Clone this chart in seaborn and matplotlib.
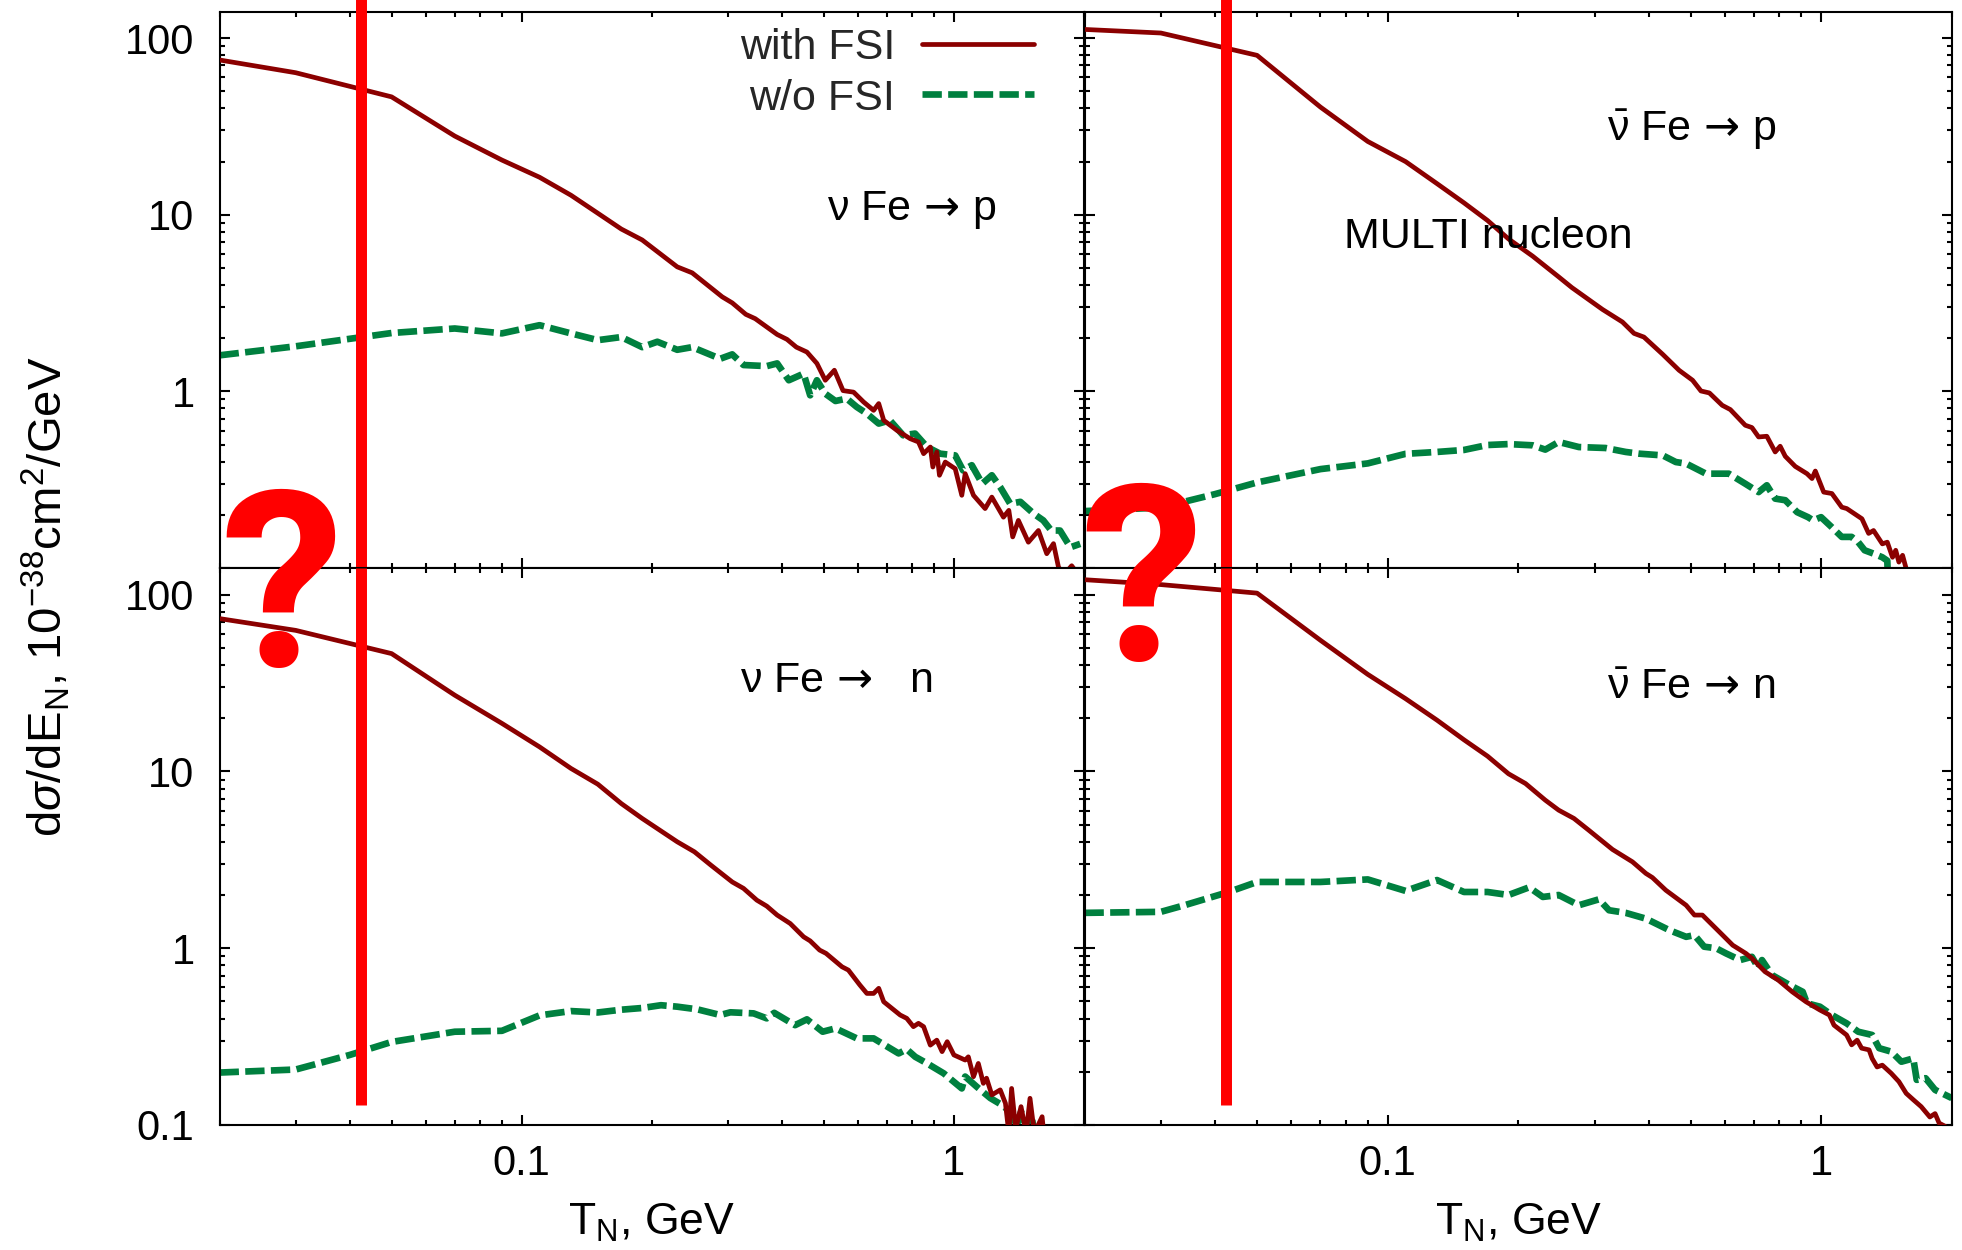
import numpy as np
import pandas as pd
import matplotlib
matplotlib.use("Agg")
import matplotlib.pyplot as plt
import seaborn as sns
from matplotlib.ticker import FixedLocator, FixedFormatter, LogLocator, NullFormatter

# ---------------------------------------------------------------- data
# nu Fe -> p
nu_p_fsi_T = [0.02, 0.03, 0.05, 0.07, 0.09, 0.11, 0.13, 0.15, 0.17, 0.19, 0.229, 0.248, 0.291, 0.307,
              0.330, 0.347, 0.39, 0.411, 0.432, 0.457, 0.482, 0.504, 0.529, 0.554, 0.586, 0.618, 0.652,
              0.670, 0.688, 0.738, 0.792, 0.828, 0.851, 0.882, 0.894, 0.913, 0.926, 0.955, 1.007, 1.043,
              1.062, 1.110, 1.181, 1.224, 1.302, 1.34, 1.368, 1.41, 1.487, 1.569, 1.64, 1.70, 1.746,
              1.80, 1.873, 1.95]
nu_p_fsi = [75.2, 63.7, 46.5, 27.9, 20.4, 16.3, 12.9, 10.2, 8.3, 7.2, 5.07, 4.69, 3.43, 3.17, 2.73,
            2.58, 2.10, 1.97, 1.78, 1.67, 1.44, 1.156, 1.317, 1.01, 0.99, 0.871, 0.781, 0.853, 0.686,
            0.602, 0.540, 0.517, 0.444, 0.484, 0.373, 0.454, 0.335, 0.398, 0.365, 0.258, 0.342, 0.258,
            0.217, 0.252, 0.194, 0.212, 0.150, 0.186, 0.140, 0.163, 0.1205, 0.1374, 0.101, 0.092,
            0.103, 0.09]
nu_p_nofsi_T = [0.02, 0.03, 0.05, 0.07, 0.09, 0.11, 0.13, 0.15, 0.17, 0.19, 0.206, 0.229, 0.248, 0.288,
                0.307, 0.326, 0.369, 0.39, 0.415, 0.449, 0.465, 0.482, 0.504, 0.532, 0.565, 0.596,
                0.629, 0.670, 0.711, 0.763, 0.813, 0.867, 0.929, 1.007, 1.05, 1.10, 1.163, 1.224, 1.28,
                1.35, 1.425, 1.53, 1.61, 1.68, 1.76, 1.86, 1.96]
nu_p_nofsi = [1.60, 1.80, 2.14, 2.27, 2.13, 2.37, 2.13, 1.95, 2.03, 1.78, 1.91, 1.72, 1.78, 1.53, 1.62,
              1.41, 1.39, 1.44, 1.156, 1.26, 0.95, 1.156, 0.97, 0.882, 0.91, 0.816, 0.748, 0.657, 0.686,
              0.564, 0.577, 0.484, 0.444, 0.434, 0.357, 0.382, 0.300, 0.335, 0.287, 0.231, 0.237, 0.203,
              0.186, 0.163, 0.163, 0.131, 0.137]

# anti-nu Fe -> p
nubar_p_fsi_T = [0.02, 0.03, 0.05, 0.07, 0.09, 0.11, 0.13, 0.15, 0.17, 0.19, 0.216, 0.248, 0.266, 0.313,
                 0.348, 0.370, 0.390, 0.431, 0.47, 0.505, 0.528, 0.552, 0.591, 0.617, 0.668, 0.692,
                 0.717, 0.749, 0.783, 0.804, 0.826, 0.871, 0.927, 0.952, 0.969, 1.013, 1.058, 1.115,
                 1.145, 1.241, 1.286, 1.32, 1.383, 1.42, 1.46, 1.485, 1.51, 1.54, 1.57, 1.59]
nubar_p_fsi = [112, 106.9, 79.9, 40.7, 26.0, 20.0, 15.0, 11.68, 9.28, 7.3, 5.83, 4.45, 3.87, 2.91, 2.47,
               2.13, 2.03, 1.62, 1.317, 1.156, 1.005, 0.98, 0.834, 0.789, 0.643, 0.624, 0.552, 0.557,
               0.454, 0.489, 0.429, 0.376, 0.342, 0.321, 0.354, 0.269, 0.264, 0.221, 0.217, 0.190,
               0.157, 0.163, 0.137, 0.140, 0.115, 0.126, 0.108, 0.118, 0.099, 0.06]
nubar_p_nofsi_T = [0.02, 0.03, 0.04, 0.05, 0.07, 0.09, 0.11, 0.13, 0.15, 0.17, 0.19, 0.216, 0.231, 0.248,
                   0.276, 0.318, 0.354, 0.380, 0.431, 0.462, 0.488, 0.542, 0.612, 0.668, 0.717, 0.749,
                   0.783, 0.826, 0.88, 0.932, 0.958, 0.999, 1.058, 1.115, 1.175, 1.217, 1.259, 1.32,
                   1.383, 1.42, 1.43]
nubar_p_nofsi = [0.21, 0.22, 0.262, 0.305, 0.363, 0.391, 0.443, 0.454, 0.466, 0.497, 0.503, 0.495,
                 0.468, 0.517, 0.484, 0.478, 0.454, 0.444, 0.434, 0.398, 0.390, 0.342, 0.342, 0.300,
                 0.269, 0.294, 0.247, 0.242, 0.207, 0.194, 0.186, 0.194, 0.170, 0.150, 0.150, 0.140,
                 0.126, 0.1206, 0.115, 0.110, 0.07]

# nu Fe -> n
nu_n_fsi_T = [0.02, 0.03, 0.05, 0.07, 0.09, 0.11, 0.13, 0.15, 0.17, 0.19, 0.229, 0.251, 0.274, 0.307,
              0.326, 0.35, 0.369, 0.39, 0.418, 0.449, 0.465, 0.489, 0.506, 0.551, 0.57, 0.606, 0.629,
              0.652, 0.670, 0.688, 0.751, 0.778, 0.806, 0.828, 0.851, 0.882, 0.913, 0.939, 0.965, 1.0,
              1.062, 1.08, 1.11, 1.139, 1.17, 1.19, 1.224, 1.28, 1.316, 1.34, 1.36, 1.39, 1.43, 1.47,
              1.50, 1.535, 1.60, 1.63]
nu_n_fsi = [73.2, 62.8, 46.4, 27.0, 18.7, 13.76, 10.4, 8.47, 6.58, 5.42, 4.00, 3.51, 2.95, 2.37, 2.18,
            1.87, 1.73, 1.54, 1.38, 1.16, 1.10, 0.976, 0.935, 0.785, 0.752, 0.619, 0.555, 0.555, 0.593,
            0.498, 0.419, 0.401, 0.360, 0.376, 0.360, 0.283, 0.302, 0.26, 0.296, 0.249, 0.233, 0.243,
            0.1875, 0.223, 0.172, 0.184, 0.148, 0.158, 0.1327, 0.09, 0.161, 0.095, 0.127, 0.09,
            0.1416, 0.09, 0.1114, 0.07]
nu_n_nofsi_T = [0.02, 0.03, 0.04, 0.05, 0.07, 0.09, 0.11, 0.13, 0.15, 0.17, 0.19, 0.21, 0.229, 0.255,
                0.288, 0.304, 0.344, 0.369, 0.384, 0.429, 0.457, 0.497, 0.532, 0.596, 0.652, 0.711,
                0.745, 0.778, 0.814, 0.867, 0.947, 1.043, 1.062, 1.128, 1.214, 1.29, 1.35, 1.39, 1.43,
                1.47, 1.51, 1.55]
nu_n_nofsi = [0.198, 0.206, 0.249, 0.295, 0.337, 0.341, 0.417, 0.441, 0.433, 0.449, 0.459, 0.476, 0.467,
              0.451, 0.419, 0.434, 0.428, 0.401, 0.431, 0.367, 0.396, 0.337, 0.352, 0.309, 0.309, 0.272,
              0.254, 0.268, 0.243, 0.223, 0.196, 0.161, 0.188, 0.165, 0.142, 0.13, 0.119, 0.095, 0.119,
              0.098, 0.114, 0.08]

# anti-nu Fe -> n
nubar_n_fsi_T = [0.02, 0.03, 0.05, 0.07, 0.09, 0.11, 0.13, 0.15, 0.17, 0.19, 0.208, 0.231, 0.248, 0.269,
                 0.291, 0.33, 0.367, 0.394, 0.408, 0.438, 0.488, 0.51, 0.532, 0.582, 0.625, 0.67, 0.692,
                 0.742, 0.796, 0.857, 0.922, 0.993, 1.044, 1.07, 1.144, 1.175, 1.21, 1.239, 1.289, 1.31,
                 1.345, 1.383, 1.45, 1.51, 1.57, 1.63, 1.70, 1.78, 1.83, 1.87, 1.92, 1.97]
nubar_n_fsi = [121.5, 114, 102, 55.2, 35.4, 25.8, 19.5, 15.1, 12.2, 9.7, 8.54, 6.88, 6.04, 5.42, 4.65,
               3.62, 3.08, 2.65, 2.51, 2.13, 1.75, 1.54, 1.54, 1.238, 1.04, 0.935, 0.876, 0.736, 0.66,
               0.567, 0.498, 0.447, 0.419, 0.367, 0.323, 0.284, 0.302, 0.272, 0.266, 0.238, 0.213,
               0.218, 0.196, 0.176, 0.151, 0.139, 0.127, 0.111, 0.116, 0.1025, 0.099, 0.095]
nubar_n_nofsi_T = [0.02, 0.03, 0.034, 0.043, 0.05, 0.07, 0.09, 0.11, 0.13, 0.15, 0.17, 0.19, 0.212,
                   0.228, 0.248, 0.276, 0.307, 0.324, 0.354, 0.394, 0.446, 0.488, 0.51, 0.537, 0.572,
                   0.603, 0.65, 0.692, 0.717, 0.73, 0.77, 0.845, 0.906, 0.927, 0.993, 1.058, 1.144,
                   1.217, 1.31, 1.36, 1.45, 1.53, 1.63, 1.66, 1.74, 1.83, 1.90, 2.0]
nubar_n_nofsi = [1.585, 1.606, 1.75, 2.08, 2.37, 2.37, 2.45, 2.11, 2.43, 2.08, 2.08, 2.0, 2.21, 1.95,
                 2.0, 1.75, 1.89, 1.64, 1.585, 1.47, 1.266, 1.16, 1.186, 1.02, 1.0, 0.935, 0.857, 0.894,
                 0.769, 0.857, 0.705, 0.619, 0.567, 0.488, 0.467, 0.419, 0.376, 0.337, 0.323, 0.272,
                 0.26, 0.228, 0.238, 0.18, 0.184, 0.158, 0.151, 0.142]

series_labels = ["with FSI", "w/o FSI"]
y_tick_values = [0.1, 1, 10, 100]
y_tick_labels = ["0.1", "1", "10", "100"]
x_tick_values = [0.1, 1]
x_tick_labels = ["0.1", "1"]

# energy marked by the vertical red bar, and where that bar stops at the bottom
marked_T = 0.0425
marked_bar_low = 0.129

# ---------------------------------------------------------------- style
sns.set_theme(style="ticks")
plt.rcParams["font.family"] = ["Liberation Sans", "DejaVu Sans"]
plt.rcParams["mathtext.fontset"] = "custom"
plt.rcParams["mathtext.rm"] = "Liberation Sans"
plt.rcParams["mathtext.it"] = "Liberation Sans:italic"
plt.rcParams["mathtext.bf"] = "Liberation Sans:bold"
plt.rcParams["mathtext.sf"] = "DejaVu Sans"
plt.rcParams["axes.linewidth"] = 1.5

RED = "#8b0000"
GREEN = "#00803f"
MARK = "#ff0000"
FS = 31
TICK_FS = 30
XLIM = (0.02, 2.0)
YLIM = (0.1, 141.5)

W, H = 1962, 1250
fig = plt.figure(figsize=(W / 100, H / 100), dpi=100)


def rect(x0, y0, x1, y1):
    return [x0 / W, 1 - y1 / H, (x1 - x0) / W, (y1 - y0) / H]


ARROW = r"$\,\mathsf{\rightarrow}\,$"
panels = [
    dict(rect=rect(219.6, 11.5, 1084, 568), fsi=(nu_p_fsi_T, nu_p_fsi),
         nofsi=(nu_p_nofsi_T, nu_p_nofsi), text=r"$\mathrm{\nu}$ Fe" + ARROW + "p",
         tpos=(0.801, 0.625), left=True, bottom=False, legend=True),
    dict(rect=rect(1084.5, 11.5, 1951.8, 568), fsi=(nubar_p_fsi_T, nubar_p_fsi),
         nofsi=(nubar_p_nofsi_T, nubar_p_nofsi), text=r"$\mathrm{\bar{\nu}}$ Fe" + ARROW + "p",
         tpos=(0.700, 0.767), left=False, bottom=False, legend=False),
    dict(rect=rect(219.6, 568, 1084, 1125), fsi=(nu_n_fsi_T, nu_n_fsi),
         nofsi=(nu_n_nofsi_T, nu_n_nofsi), text=r"$\mathrm{\nu}$ Fe" + ARROW + "  n",
         tpos=(0.714, 0.777), left=True, bottom=True, legend=False),
    dict(rect=rect(1084.5, 568, 1951.8, 1125), fsi=(nubar_n_fsi_T, nubar_n_fsi),
         nofsi=(nubar_n_nofsi_T, nubar_n_nofsi), text=r"$\mathrm{\bar{\nu}}$ Fe" + ARROW + "n",
         tpos=(0.700, 0.7655), left=False, bottom=True, legend=False),
]

axes = []
for p in panels:
    ax = fig.add_axes(p["rect"])
    axes.append(ax)
    ax.set_xscale("log")
    ax.set_yscale("log")

    df_fsi = pd.DataFrame({"T": p["fsi"][0], "dsdE": p["fsi"][1]})
    df_nofsi = pd.DataFrame({"T": p["nofsi"][0], "dsdE": p["nofsi"][1]})

    sns.lineplot(data=df_fsi, x="T", y="dsdE", ax=ax, color=RED, linewidth=3.4,
                 estimator=None, sort=False, label=series_labels[0], legend=False, zorder=3)
    sns.lineplot(data=df_nofsi, x="T", y="dsdE", ax=ax, color=GREEN, linewidth=4.8,
                 linestyle=(0, (2.9, 0.95)), estimator=None, sort=False,
                 label=series_labels[1], legend=False, zorder=2)

    ax.set_xlim(*XLIM)
    ax.set_ylim(*YLIM)

    # vertical red bar at the marked energy
    if p["bottom"]:
        ax.vlines(marked_T, marked_bar_low, YLIM[1], color=MARK, linewidth=7.9, zorder=6)
    else:
        ax.vlines(marked_T, YLIM[0], 170, color=MARK, linewidth=7.9, zorder=6, clip_on=False)

    # gnuplot-like ticks: inward on all four sides
    ax.xaxis.set_major_locator(FixedLocator(x_tick_values))
    ax.xaxis.set_minor_locator(LogLocator(base=10, subs=np.arange(2, 10)))
    ax.yaxis.set_major_locator(FixedLocator(y_tick_values))
    ax.yaxis.set_minor_locator(LogLocator(base=10, subs=np.arange(2, 10)))
    ax.xaxis.set_minor_formatter(NullFormatter())
    ax.yaxis.set_minor_formatter(NullFormatter())
    if p["bottom"]:
        ax.xaxis.set_major_formatter(FixedFormatter(x_tick_labels))
    else:
        ax.xaxis.set_major_formatter(NullFormatter())
    if p["left"]:
        labels = list(y_tick_labels) if p["bottom"] else [""] + y_tick_labels[1:]
        ax.yaxis.set_major_formatter(FixedFormatter(labels))
    else:
        ax.yaxis.set_major_formatter(NullFormatter())
    ax.tick_params(which="both", direction="in", top=True, right=True, color="black",
                   width=1.5, labelsize=TICK_FS, labelcolor="black")
    ax.tick_params(which="major", length=7)
    ax.tick_params(which="minor", length=3.8)
    ax.tick_params(axis="y", pad=18)
    ax.tick_params(axis="x", pad=14)
    for s in ax.spines.values():
        s.set_color("black")
        s.set_linewidth(1.5)

    ax.set_ylabel("")
    if p["bottom"]:
        ax.set_xlabel(r"T$_\mathrm{N}$, GeV", fontsize=FS + 1, color="black", va="baseline")
        ax.xaxis.set_label_coords(0.5, -0.198)
    else:
        ax.set_xlabel("")

    ax.text(p["tpos"][0], p["tpos"][1], p["text"], transform=ax.transAxes, fontsize=FS,
            ha="center", va="baseline", color="black", zorder=7)

    if p["legend"]:
        ax.legend(handles=ax.lines[:2], labels=series_labels, loc="upper right",
                  bbox_to_anchor=(0.942, 0.970), frameon=False, markerfirst=False,
                  fontsize=FS, handlelength=2.6, handletextpad=0.62, labelspacing=0.24,
                  borderpad=0, borderaxespad=0)

# label in the upper right panel
axes[1].text(0.466, 0.575, "MULTI nucleon", transform=axes[1].transAxes, fontsize=FS,
             ha="center", va="baseline", color="black", zorder=7)

# shared y-axis title
fig.text(46 / W, 1 - 596.5 / H, r"d$\sigma$/dE$_\mathrm{N}$, 10$^\mathrm{-38}$cm$^\mathrm{2}$/GeV",
         rotation=90, ha="center", va="center", fontsize=FS + 3, color="black")

# big question marks
for qx, qy in [(282, 667), (1141.5, 661)]:
    fig.text(qx / W, 1 - qy / H, "?", fontsize=178, fontweight="semibold", color=MARK,
             ha="center", va="baseline", family=["Roboto", "Liberation Sans"], zorder=10)

fig.savefig("out.png", dpi=100)
